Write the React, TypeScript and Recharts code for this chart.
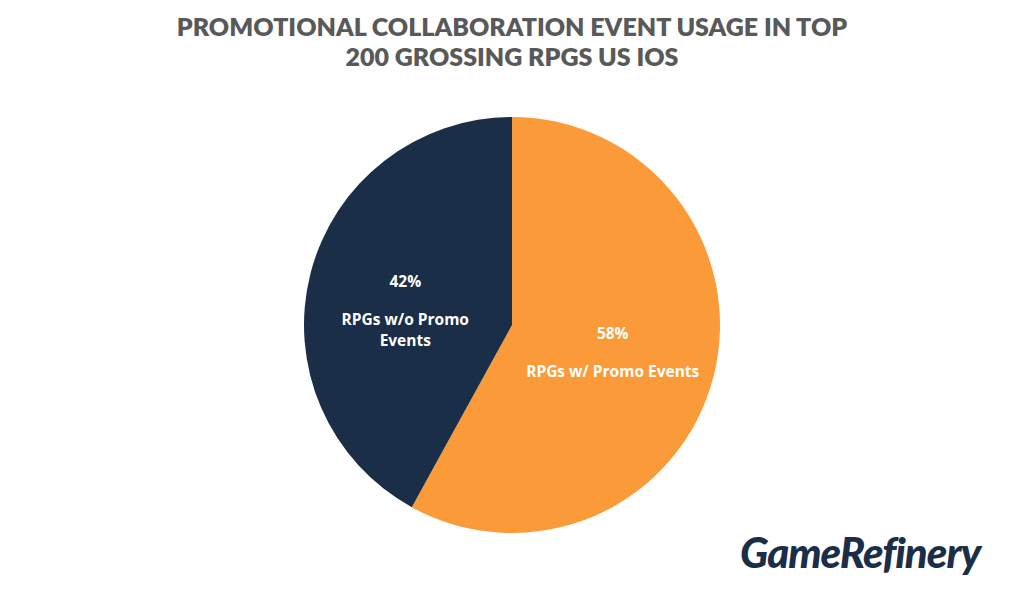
import { Pie, PieChart, Cell } from "recharts";

const segmentNames = ["RPGs w/ Promo Events", "RPGs w/o Promo Events"];
const segmentShares = [58, 42];
const segmentLabelLines = [["RPGs w/ Promo Events"], ["RPGs w/o Promo", "Events"]];
const segmentColors = ["#fb9a38", "#1b2e47"];

const chartData = segmentNames.map((name, i) => ({ name, value: segmentShares[i] }));

const RAD = Math.PI / 180;

function SliceLabel({ cx, cy, midAngle, outerRadius, index, value }: any) {
  const r = outerRadius * 0.5;
  const x = cx + r * Math.cos(-midAngle * RAD) - (index === 1 ? 6 : 0);
  const y = cy + r * Math.sin(-midAngle * RAD);
  const lines = segmentLabelLines[index];
  return (
    <g fill="#ffffff" fontFamily="'Open Sans', Lato, sans-serif" fontWeight={700} fontSize={15.5} textAnchor="middle">
      <text x={x} y={y - 18} dominantBaseline="central">
        {value}%
      </text>
      {lines.map((line: string, j: number) => (
        <text key={j} x={x} y={y + 20 + j * 21} dominantBaseline="central">
          {line}
        </text>
      ))}
    </g>
  );
}

export default function App() {
  return (
    <div style={{ position: "fixed", left: 0, top: 0, width: 1024, height: 616, background: "#ffffff" }}>
      <div
        style={{
          position: "absolute",
          top: 11,
          left: 0,
          width: 1024,
          textAlign: "center",
          fontFamily: "Lato, 'Open Sans', sans-serif",
          fontWeight: 800,
          fontSize: 25,
          lineHeight: "30px",
          color: "#595959",
        }}
      >
        PROMOTIONAL COLLABORATION EVENT USAGE IN TOP
        <br />
        200 GROSSING RPGS US IOS
      </div>
      <PieChart
        width={1024}
        height={616}
        margin={{ top: 0, right: 0, bottom: 0, left: 0 }}
        style={{ position: "absolute", left: 0, top: 0 }}
      >
        <Pie
          data={chartData}
          dataKey="value"
          nameKey="name"
          cx={512}
          cy={325}
          outerRadius={208}
          startAngle={90}
          endAngle={-270}
          stroke="none"
          labelLine={false}
          label={SliceLabel}
          isAnimationActive={false}
        >
          {chartData.map((d, i) => (
            <Cell key={d.name} fill={segmentColors[i]} />
          ))}
        </Pie>
      </PieChart>
      <div
        style={{
          position: "absolute",
          left: 740,
          top: 527,
          fontFamily: "Lato, 'Open Sans', sans-serif",
          fontStyle: "italic",
          fontWeight: 900,
          fontSize: 42,
          letterSpacing: -1,
          color: "#1b2e47",
        }}
      >
        GameRefinery
      </div>
    </div>
  );
}
